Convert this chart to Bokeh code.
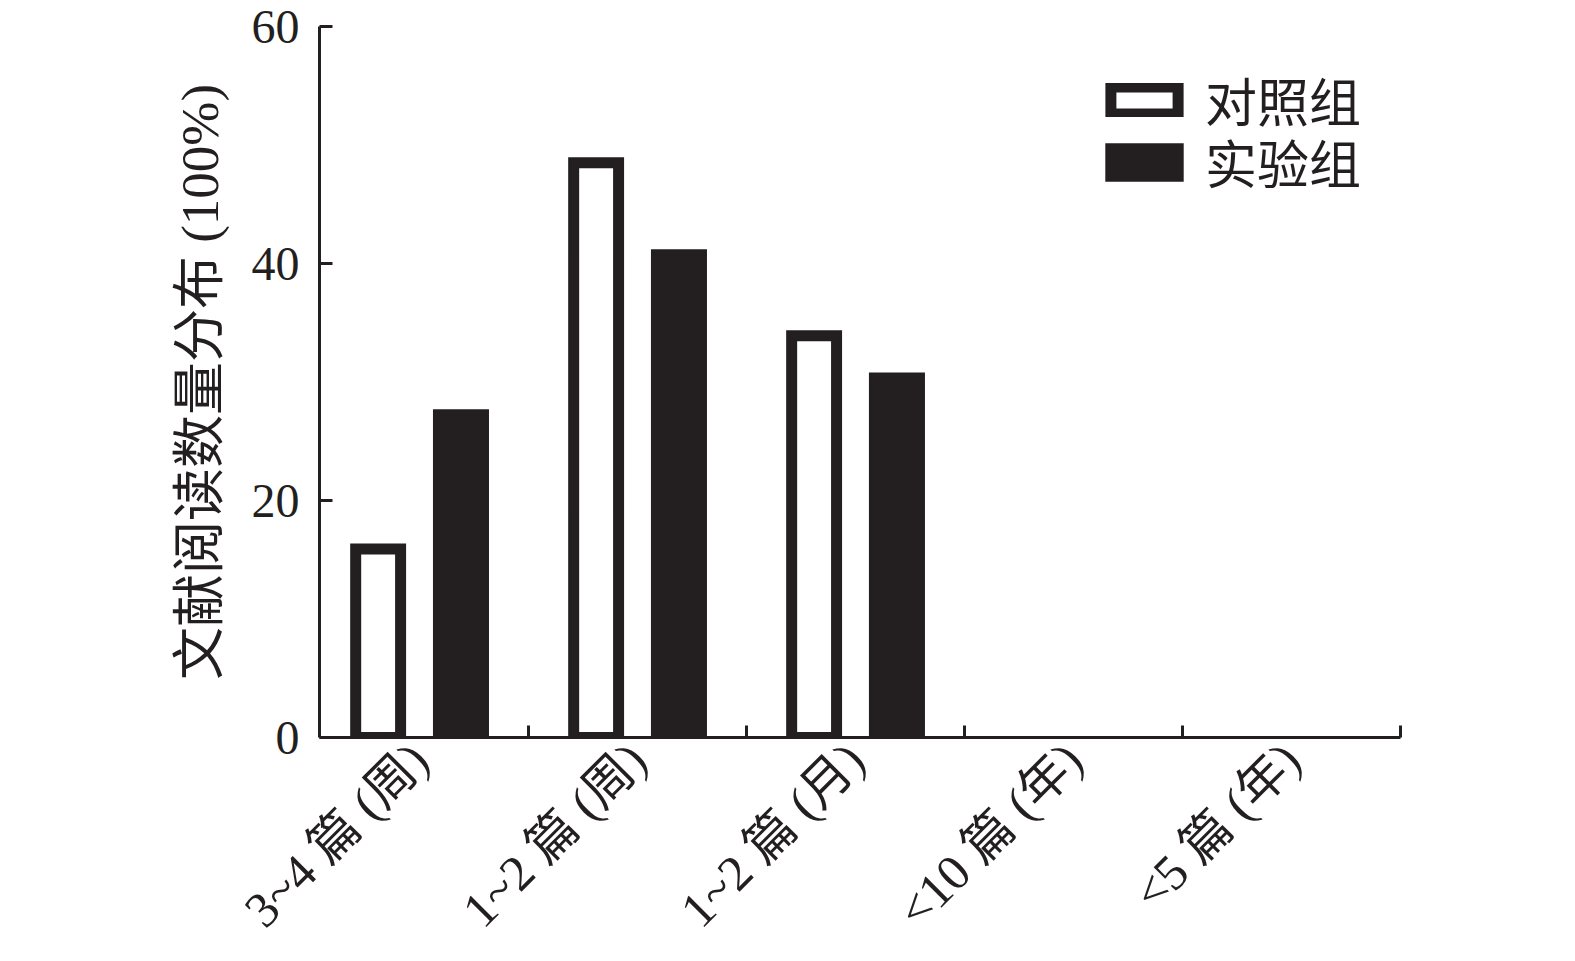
import math
from bokeh.plotting import figure
from bokeh.models import (Range1d, FixedTicker, ColumnDataSource, Legend, LegendItem)
from bokeh.embed import file_html
from bokeh.resources import INLINE

categories = ["3~4 篇 (周)", "1~2 篇 (周)", "1~2 篇 (月)", "<10 篇 (年)", "<5 篇 (年)"]
control = [15.9, 48.5, 33.9, 0, 0]
experiment = [27.7, 41.2, 30.8, 0, 0]
series_names = ["对照组", "实验组"]
y_ticks = [0, 20, 40, 60]
y_label = "文献阅读数量分布 (100%)"

INK = "#231f20"
FONT = "Liberation Serif, Noto Sans CJK SC"

centers = [i + 0.5 for i in range(len(categories))]
bounds = [i + 1 for i in range(len(categories))]

p = figure(width=1567, height=961, output_backend="svg", toolbar_location=None,
           x_range=Range1d(0.041, len(categories)), y_range=Range1d(0, 60),
           min_border_left=319, min_border_right=167, min_border_top=26,
           min_border_bottom=224)
p.outline_line_color = None
p.xgrid.visible = False
p.ygrid.visible = False
p.background_fill_color = "white"
p.border_fill_color = "white"

off = 0.19
c_src = ColumnDataSource(dict(x=[c - off for c, v in zip(centers, control) if v > 0],
                              top=[v for v in control if v > 0]))
e_src = ColumnDataSource(dict(x=[c + off for c, v in zip(centers, experiment) if v > 0],
                              top=[v for v in experiment if v > 0]))
r1 = p.vbar(x="x", top="top", bottom=0, width=0.206, source=c_src,
            fill_color="white", line_color=INK, line_width=11, line_join="miter")
r2 = p.vbar(x="x", top="top", bottom=0, width=0.257, source=e_src,
            fill_color=INK, line_color=None)

# x axis
xa = p.xaxis[0]
xa.ticker = FixedTicker(ticks=centers, minor_ticks=bounds)
xa.major_label_overrides = {c: lab for c, lab in zip(centers, categories)}
xa.major_tick_line_color = None
xa.minor_tick_in = 12
xa.minor_tick_out = 0
xa.minor_tick_line_width = 3
xa.minor_tick_line_color = INK
xa.axis_line_width = 3
xa.axis_line_color = INK
xa.major_label_orientation = math.pi / 4
xa.major_label_text_font = FONT
xa.major_label_text_font_size = "50px"
xa.major_label_text_color = INK
xa.major_label_standoff = 8

# y axis
ya = p.yaxis[0]
ya.ticker = FixedTicker(ticks=y_ticks, minor_ticks=[])
ya.major_tick_in = 13
ya.major_tick_out = 0
ya.major_tick_line_width = 3
ya.major_tick_line_color = INK
ya.axis_line_width = 3
ya.axis_line_color = INK
ya.minor_tick_line_color = None
ya.major_label_text_font = FONT
ya.major_label_text_font_size = "48px"
ya.major_label_text_color = INK
ya.major_label_standoff = 20
ya.axis_label = y_label
ya.axis_label_text_font = FONT
ya.axis_label_text_font_size = "53px"
ya.axis_label_text_font_style = "normal"
ya.axis_label_text_color = INK
ya.axis_label_standoff = 20


def make_legend(item, loc, gw, gh, standoff):
    lg = Legend(items=[item], location=loc)
    lg.glyph_width = gw
    lg.glyph_height = gh
    lg.label_text_font = FONT
    lg.label_text_font_size = "52px"
    lg.label_text_color = INK
    lg.label_standoff = standoff
    lg.padding = 0
    lg.margin = 0
    lg.border_line_color = None
    lg.background_fill_alpha = 0
    return lg


p.add_layout(make_legend(LegendItem(label=series_names[0], renderers=[r1]), (783, 600), 84, 34, 19))
p.add_layout(make_legend(LegendItem(label=series_names[1], renderers=[r2]), (776, 538), 98, 48, 12))

open("out.html", "w").write(file_html(p, INLINE))
